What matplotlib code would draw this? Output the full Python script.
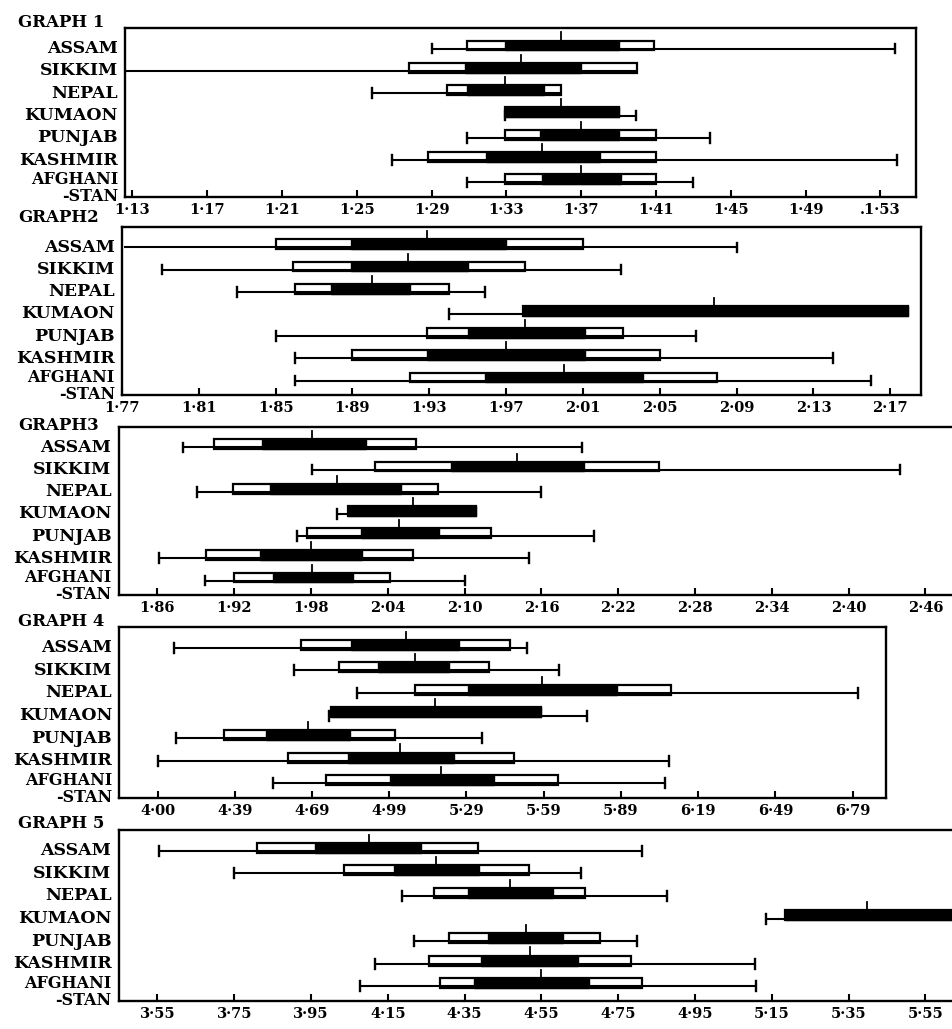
import matplotlib
matplotlib.use("Agg")
import matplotlib.pyplot as plt
from matplotlib.patches import Rectangle
import matplotlib.transforms as mtransforms

plt.rcParams['font.family'] = ['DejaVu Serif']
plt.rcParams['font.weight'] = 'bold'

REGIONS = ["ASSAM", "SIKKIM", "NEPAL", "KUMAON", "PUNJAB", "KASHMIR", "AFGHANI"]

# each row: [min, outer_lo, inner_lo, mean, inner_hi, outer_hi, max]; None = runs off the left
G1 = [
    [1.290, 1.309, 1.329, 1.359, 1.390, 1.409, 1.538],
    [None,  1.278, 1.308, 1.338, 1.370, 1.400, 1.400],
    [1.258, 1.298, 1.309, 1.329, 1.350, 1.359, 1.359],
    [1.329, 1.329, 1.329, 1.359, 1.390, 1.390, 1.399],
    [1.309, 1.329, 1.348, 1.370, 1.390, 1.410, 1.439],
    [1.269, 1.288, 1.319, 1.349, 1.380, 1.410, 1.539],
    [1.309, 1.329, 1.349, 1.370, 1.391, 1.410, 1.430],
]
G2 = [
    [None,  1.850, 1.889, 1.929, 1.970, 2.010, 2.090],
    [1.791, 1.859, 1.889, 1.919, 1.950, 1.980, 2.030],
    [1.830, 1.860, 1.879, 1.900, 1.920, 1.940, 1.959],
    [1.940, 1.979, 1.979, 2.078, 2.179, 2.179, 2.179],
    [1.850, 1.929, 1.950, 1.980, 2.011, 2.031, 2.069],
    [1.860, 1.890, 1.929, 1.970, 2.011, 2.050, 2.140],
    [1.860, 1.920, 1.959, 2.000, 2.041, 2.080, 2.160],
]
G3 = [
    [1.880, 1.904, 1.942, 1.981, 2.023, 2.062, 2.192],
    [1.981, 2.030, 2.089, 2.141, 2.193, 2.252, 2.440],
    [1.891, 1.919, 1.948, 2.000, 2.050, 2.079, 2.160],
    [2.000, 2.009, 2.009, 2.060, 2.109, 2.109, 2.109],
    [1.969, 1.977, 2.019, 2.049, 2.080, 2.121, 2.201],
    [1.861, 1.898, 1.940, 1.980, 2.020, 2.060, 2.150],
    [1.897, 1.920, 1.950, 1.981, 2.013, 2.042, 2.100],
]
G4 = [
    [4.152, 4.648, 4.843, 5.057, 5.260, 5.459, 5.526],
    [4.621, 4.796, 4.948, 5.089, 5.221, 5.377, 5.650],
    [4.866, 5.089, 5.295, 5.584, 5.873, 6.083, 6.813],
    [4.757, 4.765, 4.765, 5.167, 5.580, 5.580, 5.760],
    [4.160, 4.347, 4.511, 4.675, 4.839, 5.011, 5.350],
    [4.090, 4.597, 4.831, 5.030, 5.241, 5.475, 6.076],
    [4.539, 4.745, 4.991, 5.190, 5.397, 5.647, 6.060],
]
G5 = [
    [3.553, 3.809, 3.960, 4.100, 4.237, 4.385, 4.811],
    [3.750, 4.035, 4.167, 4.276, 4.388, 4.518, 4.652],
    [4.186, 4.271, 4.359, 4.468, 4.580, 4.663, 4.878],
    [5.135, 5.184, 5.184, 5.397, 5.620, 5.620, 5.620],
    [4.217, 4.310, 4.411, 4.510, 4.606, 4.702, 4.800],
    [4.116, 4.256, 4.393, 4.520, 4.645, 4.782, 5.106],
    [4.077, 4.287, 4.375, 4.549, 4.673, 4.813, 5.109],
]

T1 = [1.13, 1.17, 1.21, 1.25, 1.29, 1.33, 1.37, 1.41, 1.45, 1.49, 1.53]
L1 = ["1·13", "1·17", "1·21", "1·25", "1·29", "1·33", "1·37", "1·41", "1·45", "1·49", ".1·53"]
T2 = [1.77, 1.81, 1.85, 1.89, 1.93, 1.97, 2.01, 2.05, 2.09, 2.13, 2.17]
L2 = ["1·77", "1·81", "1·85", "1·89", "1·93", "1·97", "2·01", "2·05", "2·09", "2·13", "2·17"]
T3 = [1.86, 1.92, 1.98, 2.04, 2.10, 2.16, 2.22, 2.28, 2.34, 2.40, 2.46]
L3 = ["1·86", "1·92", "1·98", "2·04", "2·10", "2·16", "2·22", "2·28", "2·34", "2·40", "2·46"]
T4 = [4.09, 4.39, 4.69, 4.99, 5.29, 5.59, 5.89, 6.19, 6.49, 6.79]
L4 = ["4·00", "4·39", "4·69", "4·99", "5·29", "5·59", "5·89", "6·19", "6·49", "6·79"]
T5 = [3.55, 3.75, 3.95, 4.15, 4.35, 4.55, 4.75, 4.95, 5.15, 5.35, 5.55]
L5 = ["3·55", "3·75", "3·95", "4·15", "4·35", "4·55", "4·75", "4·95", "5·15", "5·35", "5·55"]

W, H = 952, 1029

# pixel boxes (left, right, top, bottom), x-limits, right frame shown, title y
panels = [
    ("GRAPH 1", G1, T1, L1, (125, 916, 28, 197), (1.126, 1.549), True, 22),
    ("GRAPH2", G2, T2, L2, (122, 921, 227, 395), (1.771, 2.186), True, 218),
    ("GRAPH3", G3, T3, L3, (119, 960, 427, 595), (1.830, 2.487), False, 425),
    ("GRAPH 4", G4, T4, L4, (119, 886, 627, 798), (3.94, 6.92), True, 622),
    ("GRAPH 5", G5, T5, L5, (119, 960, 830, 1001), (3.45, 5.64), False, 823),
]

fig = plt.figure(figsize=(W / 100, H / 100), dpi=100)

for title, rows, ticks, labels, (l, r, t, b), xlim, right_spine, ty in panels:
    ax = fig.add_axes([l / W, 1 - b / H, (r - l) / W, (b - t) / H])
    ax.set_xlim(*xlim)
    ax.set_ylim(6.65, -0.92)
    ax.set_yticks([])
    for s in ax.spines.values():
        s.set_linewidth(1.7)
    ax.spines['right'].set_visible(right_spine)
    ax.set_xticks(ticks)
    ax.set_xticklabels(labels, fontsize=10.5, fontweight='heavy')
    ax.tick_params(axis='x', direction='in', length=5, width=1.5, pad=4)

    for i, (mn, wlo, blo, mean, bhi, whi, mx) in enumerate(rows):
        y = i
        lo = xlim[0] if mn is None else mn
        ax.plot([lo, mx], [y, y], color='black', lw=1.5, solid_capstyle='butt')
        if mn is not None:
            ax.plot([mn, mn], [y - 0.22, y + 0.22], color='black', lw=1.7)
        if mx > whi:
            ax.plot([mx, mx], [y - 0.22, y + 0.22], color='black', lw=1.7)
        ax.add_patch(Rectangle((wlo, y - 0.36), whi - wlo, 0.44,
                               facecolor='white', edgecolor='black', lw=1.6))
        ax.add_patch(Rectangle((blo, y - 0.36), bhi - blo, 0.44,
                               facecolor='black', edgecolor='black', lw=1.0))
        ax.plot([mean, mean], [y - 0.72, y - 0.3], color='black', lw=1.3)

    trans = mtransforms.blended_transform_factory(ax.transAxes, ax.transData)
    for i, name in enumerate(REGIONS[:-1]):
        ax.text(-0.009, i, name, transform=trans, ha='right', va='center',
                fontsize=12.5, fontweight='heavy')
    # two-line label for the last row
    ax.text(-0.009, 5.86, REGIONS[-1], transform=trans, ha='right', va='center',
            fontsize=11.5, fontweight='heavy')
    ax.text(-0.009, 6.64, "-STAN", transform=trans, ha='right', va='center',
            fontsize=11.5, fontweight='heavy')

    fig.text(18 / W, 1 - ty / H, title, ha='left', va='center',
             fontsize=12, fontweight='heavy')

fig.savefig("out.png", dpi=100)
